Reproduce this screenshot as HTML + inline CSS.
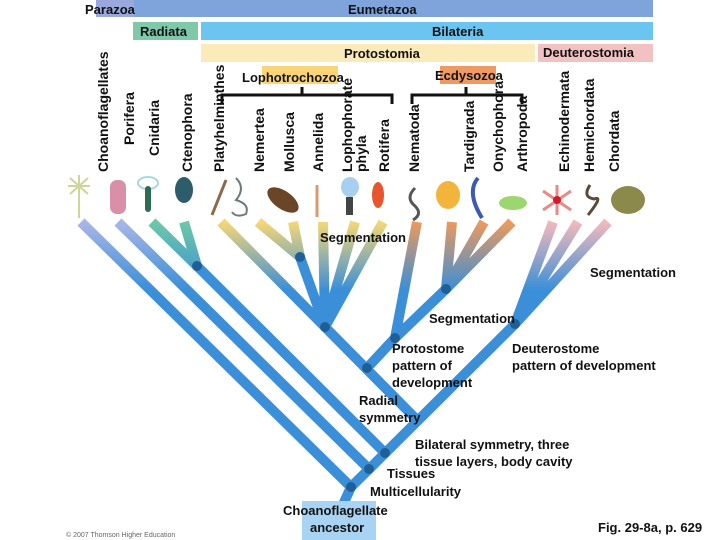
<!DOCTYPE html>
<html><head><meta charset="utf-8"><style>
html,body{margin:0;padding:0;background:#fff;}
svg{display:block;font-family:"Liberation Sans",Arial,sans-serif;}
.v{font-size:14px;font-weight:bold;fill:#111;}
.t{font-size:13px;font-weight:bold;fill:#111;}
.b{font-size:13px;font-weight:bold;fill:#111;}
</style></head><body>
<svg width="720" height="540" viewBox="0 0 720 540" xmlns="http://www.w3.org/2000/svg">
<defs>
<linearGradient id="gp" gradientUnits="userSpaceOnUse" x1="0" y1="222" x2="0" y2="290"><stop offset="0" stop-color="#a9b6e6"/><stop offset="1" stop-color="#3a8fd8"/></linearGradient>
<linearGradient id="gt" gradientUnits="userSpaceOnUse" x1="0" y1="222" x2="0" y2="290"><stop offset="0" stop-color="#6cc8a8"/><stop offset="1" stop-color="#3a8fd8"/></linearGradient>
<linearGradient id="gy" gradientUnits="userSpaceOnUse" x1="0" y1="222" x2="0" y2="290"><stop offset="0" stop-color="#f5d776"/><stop offset="1" stop-color="#3a8fd8"/></linearGradient>
<linearGradient id="go" gradientUnits="userSpaceOnUse" x1="0" y1="222" x2="0" y2="290"><stop offset="0" stop-color="#ea9a5e"/><stop offset="1" stop-color="#3a8fd8"/></linearGradient>
<linearGradient id="gk" gradientUnits="userSpaceOnUse" x1="0" y1="222" x2="0" y2="290"><stop offset="0" stop-color="#f2b9bd"/><stop offset="1" stop-color="#3a8fd8"/></linearGradient>
</defs>
<rect x="96" y="0" width="38" height="17" fill="#9aa8dd"/>
<rect x="134" y="0" width="519" height="17" fill="#7fa4dc"/>
<text x="85" y="14" class="b">Parazoa</text>
<text x="348" y="14" class="b">Eumetazoa</text>
<rect x="133" y="22" width="65" height="18" fill="#7fc8aa"/>
<text x="140" y="36" class="b">Radiata</text>
<rect x="201" y="22" width="452" height="18" fill="#6cc4f0"/>
<text x="432" y="36" class="b">Bilateria</text>
<rect x="201" y="44" width="334" height="18" fill="#fbeaba"/>
<text x="344" y="58" class="b">Protostomia</text>
<rect x="538" y="44" width="115" height="18" fill="#f2c2c2"/>
<text x="543" y="57" class="b">Deuterostomia</text>
<rect x="262" y="66" width="76" height="18" fill="#f9d577"/>
<rect x="440" y="66" width="56" height="18" fill="#ee9a63"/>
<text x="242" y="82" class="b">Lophotrochozoa</text>
<text x="435" y="80" class="b">Ecdysozoa</text>
<g stroke="#111" stroke-width="3" fill="none">
<path d="M222,104 V95 H392 V104 M302,95 V87"/>
<path d="M412,104 V95 H522 V104 M466,95 V87"/>
</g>
<g class="v">
<text transform="translate(108,172) rotate(-90)">Choanoflagellates</text>
<text transform="translate(134,145) rotate(-90)">Porifera</text>
<text transform="translate(159,156) rotate(-90)">Cnidaria</text>
<text transform="translate(192,172) rotate(-90)">Ctenophora</text>
<text transform="translate(224,172) rotate(-90)">Platyhelminthes</text>
<text transform="translate(264,172) rotate(-90)">Nemertea</text>
<text transform="translate(294,172) rotate(-90)">Mollusca</text>
<text transform="translate(323,172) rotate(-90)">Annelida</text>
<text transform="translate(352,172) rotate(-90)">Lophophorate</text>
<text transform="translate(366,172) rotate(-90)">phyla</text>
<text transform="translate(389,172) rotate(-90)">Rotifera</text>
<text transform="translate(419,172) rotate(-90)">Nematoda</text>
<text transform="translate(474,172) rotate(-90)">Tardigrada</text>
<text transform="translate(503,172) rotate(-90)">Onychophora</text>
<text transform="translate(527,172) rotate(-90)">Arthropoda</text>
<text transform="translate(569,172) rotate(-90)">Echinodermata</text>
<text transform="translate(594,172) rotate(-90)">Hemichordata</text>
<text transform="translate(619,172) rotate(-90)">Chordata</text>
</g>
<g>
<path d="M79,185 L79,218 M70,178 L88,194 M88,178 L70,194 M79,175 L79,196 M68,186 L90,186" stroke="#cfd49a" stroke-width="2"/>
<rect x="110" y="180" width="16" height="34" rx="7" fill="#d98fa8"/>
<ellipse cx="148" cy="183" rx="10" ry="6" fill="none" stroke="#a8d8dc" stroke-width="2"/>
<rect x="145" y="186" width="6" height="26" rx="3" fill="#2f6b52"/>
<ellipse cx="184" cy="190" rx="9" ry="13" fill="#2d5d6b"/>
<path d="M212,215 L226,180" stroke="#8a6a4a" stroke-width="3"/>
<path d="M236,178 q10,10 0,22 q14,4 10,14 q-10,4 -14,-2" stroke="#6e7a7a" stroke-width="2" fill="none"/>
<ellipse cx="283" cy="200" rx="18" ry="9" transform="rotate(35 283 200)" fill="#6b4527"/>
<path d="M317,185 V217" stroke="#d79b70" stroke-width="3"/>
<ellipse cx="350" cy="187" rx="9" ry="10" fill="#a8cff0"/>
<rect x="346" y="197" width="7" height="18" fill="#444"/>
<ellipse cx="378" cy="195" rx="6" ry="13" fill="#e8552c"/>
<path d="M415,188 q-10,10 0,18 q8,8 -2,14" stroke="#555" stroke-width="3" fill="none"/>
<ellipse cx="448" cy="195" rx="12" ry="14" fill="#f2b43a"/>
<path d="M478,178 q-12,14 4,40" stroke="#3b5ab0" stroke-width="4" fill="none"/>
<ellipse cx="513" cy="203" rx="14" ry="7" fill="#9cd66e"/>
<path d="M557,185 L557,215 M543,191 L571,210 M571,191 L543,210" stroke="#e88a86" stroke-width="3"/>
<circle cx="557" cy="200" r="4" fill="#d21b2b"/>
<path d="M590,185 q-8,12 4,14 q10,-4 -6,16" stroke="#5a4a3a" stroke-width="3" fill="none"/>
<ellipse cx="628" cy="200" rx="17" ry="14" fill="#8c8a4a"/>
</g>
<g fill="none" stroke-width="10" stroke-linecap="butt">
<path d="M351,487 L81,222" stroke="url(#gp)"/>
<path d="M369,469 L118,222" stroke="url(#gp)"/>
<path d="M197,266 L152,222 M197,266 L184,222" stroke="url(#gt)"/>
<path d="M385,453 L197,266" stroke="#3a8fd8"/>
<path d="M325,327 L221,222 M300,257 L258,222 M300,257 L293,222 M325,327 L323,222 M325,327 L355,222 M325,327 L383,222" stroke="url(#gy)"/>
<path d="M325,327 L300,257" stroke="#3a8fd8"/>
<path d="M395,338 L417,222 M446,289 L452,222 M446,289 L484,222 M446,289 L512,222" stroke="url(#go)"/>
<path d="M395,338 L446,289" stroke="#3a8fd8"/>
<path d="M515,324 L553,222 M515,324 L578,222 M515,324 L608,222" stroke="url(#gk)"/>
<path d="M417,420 L325,327 M367,368 L395,338" stroke="#3a8fd8"/>
<path d="M336,520 L351,487 L515,324" stroke="#3a8fd8"/>
</g>
<g fill="#1f5f98">
<circle cx="351" cy="487" r="5"/><circle cx="369" cy="469" r="5"/><circle cx="385" cy="453" r="5"/>
<circle cx="197" cy="266" r="5"/><circle cx="367" cy="368" r="5"/><circle cx="325" cy="327" r="5"/>
<circle cx="300" cy="257" r="5"/><circle cx="395" cy="338" r="5"/><circle cx="446" cy="289" r="5"/>
<circle cx="515" cy="324" r="5"/>
</g>
<rect x="302" y="501" width="74" height="39" fill="#a9d3f2"/>
<g class="t">
<text x="320" y="242">Segmentation</text>
<text x="590" y="277">Segmentation</text>
<text x="429" y="323">Segmentation</text>
<text x="392" y="353">Protostome</text>
<text x="392" y="370">pattern of</text>
<text x="392" y="387">development</text>
<text x="512" y="353">Deuterostome</text>
<text x="512" y="370">pattern of development</text>
<text x="359" y="405">Radial</text>
<text x="359" y="422">symmetry</text>
<text x="415" y="449">Bilateral symmetry, three</text>
<text x="415" y="466">tissue layers, body cavity</text>
<text x="387" y="478">Tissues</text>
<text x="370" y="496">Multicellularity</text>
<text x="283" y="515">Choanoflagellate</text>
<text x="310" y="532">ancestor</text>
<text x="598" y="532">Fig. 29-8a, p. 629</text>
</g>
<text x="66" y="537" font-size="7" fill="#666">© 2007 Thomson Higher Education</text>
</svg>
</body></html>
